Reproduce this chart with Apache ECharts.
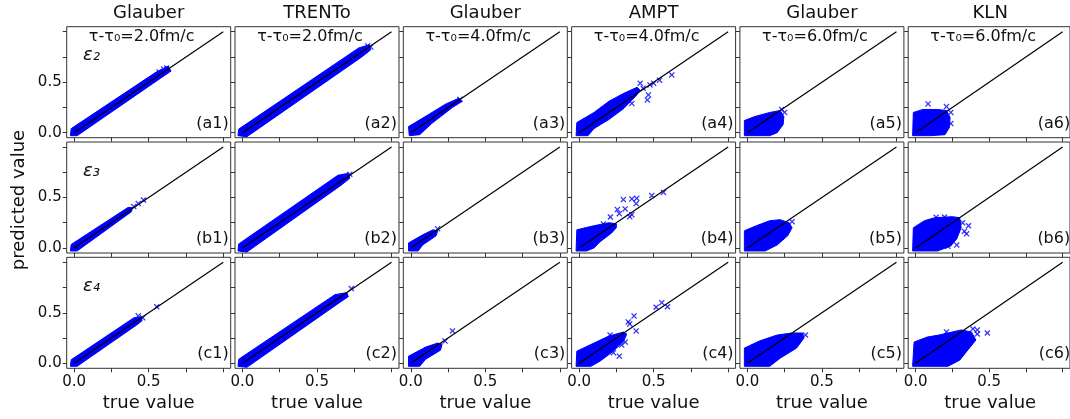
<!DOCTYPE html>
<html>
<head>
<meta charset="utf-8">
<script src="https://cdn.jsdelivr.net/npm/echarts@6/dist/echarts.min.js"></script>
<style>
html, body { margin: 0; padding: 0; background: #fff; }
#chart { width: 1070px; height: 419px; }
</style>
</head>
<body>
<div id="chart"></div>
<script>
// column headers / annotations
var models = ['Glauber', 'TRENTo', 'Glauber', 'AMPT', 'Glauber', 'KLN'];
var tauValues = ['2.0', '2.0', '4.0', '4.0', '6.0', '6.0'];
var harmonics = ['₂', '₃', '₄'];
var rowLetters = ['a', 'b', 'c'];
var tickValues = [0, 0.25, 0.5, 0.75, 1];
var labelValues = [0, 0.5];
var diagonal = [[0, 0], [1, 1]];

// dense part of each cloud (outline), [true, predicted]
var cloudA1 = [[-0.025, -0.03], [-0.02, 0.04], [0.55, 0.6], [0.63, 0.66], [0.65, 0.61], [0.58, 0.54], [0.02, -0.03]];
var cloudA2 = [[-0.03, -0.03], [-0.025, 0.035], [0.78, 0.84], [0.85, 0.87], [0.86, 0.82], [0.8, 0.75], [0.03, -0.04]];
var cloudA3 = [[-0.01, -0.03], [-0.015, 0.06], [0.12, 0.18], [0.23, 0.28], [0.32, 0.34], [0.345, 0.31], [0.28, 0.25], [0.14, 0.09], [0.06, -0.02]];
var cloudA4 = [[-0.02, -0.03], [-0.015, 0.1], [0.1, 0.2], [0.2, 0.31], [0.3, 0.39], [0.39, 0.45], [0.41, 0.42], [0.38, 0.36], [0.3, 0.24], [0.2, 0.13], [0.1, 0.04], [0.06, -0.03]];
var cloudA5 = [[-0.02, -0.03], [-0.02, 0.12], [0.05, 0.16], [0.15, 0.2], [0.22, 0.22], [0.245, 0.16], [0.24, 0.08], [0.2, 0.0], [0.15, -0.03]];
var cloudA6 = [[-0.02, -0.03], [-0.015, 0.2], [0.05, 0.23], [0.15, 0.23], [0.21, 0.22], [0.235, 0.15], [0.23, 0.05], [0.2, -0.02], [0.1, -0.03]];

var cloudB1 = [[-0.025, -0.03], [-0.02, 0.035], [0.36, 0.4], [0.39, 0.4], [0.385, 0.36], [0.02, -0.03]];
var cloudB2 = [[-0.03, -0.03], [-0.025, 0.04], [0.64, 0.72], [0.71, 0.74], [0.72, 0.69], [0.66, 0.62], [0.03, -0.04]];
var cloudB3 = [[-0.015, -0.03], [-0.015, 0.05], [0.08, 0.13], [0.15, 0.18], [0.18, 0.17], [0.17, 0.12], [0.08, 0.03], [0.05, -0.03]];
var cloudB4 = [[-0.02, -0.03], [-0.015, 0.18], [0.1, 0.22], [0.2, 0.25], [0.25, 0.24], [0.25, 0.2], [0.22, 0.15], [0.14, 0.06], [0.1, 0.0], [0.05, -0.03]];
var cloudB5 = [[-0.02, -0.03], [-0.02, 0.17], [0.06, 0.22], [0.15, 0.27], [0.22, 0.28], [0.28, 0.25], [0.3, 0.2], [0.27, 0.12], [0.2, 0.03], [0.12, -0.03]];
var cloudB6 = [[-0.02, -0.03], [-0.015, 0.2], [0.06, 0.27], [0.13, 0.3], [0.25, 0.31], [0.3, 0.3], [0.31, 0.2], [0.28, 0.09], [0.24, 0.02], [0.15, -0.03]];

var cloudC1 = [[-0.025, -0.03], [-0.02, 0.035], [0.4, 0.45], [0.45, 0.46], [0.455, 0.42], [0.42, 0.38], [0.02, -0.03]];
var cloudC2 = [[-0.03, -0.03], [-0.025, 0.04], [0.62, 0.68], [0.7, 0.7], [0.71, 0.66], [0.65, 0.6], [0.03, -0.04]];
var cloudC3 = [[-0.015, -0.03], [-0.015, 0.07], [0.1, 0.16], [0.18, 0.2], [0.21, 0.19], [0.2, 0.13], [0.1, 0.04], [0.06, -0.03]];
var cloudC4 = [[-0.02, -0.03], [-0.015, 0.12], [0.1, 0.2], [0.2, 0.27], [0.3, 0.31], [0.32, 0.29], [0.3, 0.22], [0.23, 0.12], [0.14, 0.02], [0.08, -0.03]];
var cloudC5 = [[-0.02, -0.03], [-0.02, 0.15], [0.08, 0.22], [0.2, 0.28], [0.3, 0.3], [0.37, 0.3], [0.38, 0.25], [0.33, 0.15], [0.22, 0.05], [0.15, -0.03]];
var cloudC6 = [[-0.02, -0.03], [-0.01, 0.21], [0.08, 0.26], [0.16, 0.28], [0.31, 0.33], [0.38, 0.31], [0.41, 0.23], [0.36, 0.14], [0.3, 0.03], [0.22, -0.03]];

// isolated points outside the dense part
var outA1 = [[0.6, 0.63], [0.62, 0.64], [0.57, 0.6]];
var outA2 = [[0.84, 0.86], [0.86, 0.85]];
var outA3 = [[0.33, 0.33]];
var outA4 = [[0.41, 0.49], [0.465, 0.374], [0.476, 0.473], [0.458, 0.324], [0.622, 0.572], [0.54, 0.52], [0.354, 0.29], [0.43, 0.44], [0.5, 0.49]];
var outA5 = [[0.25, 0.2], [0.23, 0.23]];
var outA6 = [[0.085, 0.285], [0.21, 0.258], [0.24, 0.09], [0.24, 0.2]];

var outB1 = [[0.43, 0.44], [0.465, 0.475], [0.4, 0.41]];
var outB2 = [[0.72, 0.73]];
var outB3 = [[0.18, 0.19]];
var outB4 = [[0.163, 0.238], [0.21, 0.307], [0.257, 0.38], [0.27, 0.34], [0.297, 0.479], [0.309, 0.387], [0.354, 0.486], [0.387, 0.492], [0.383, 0.44], [0.354, 0.33], [0.34, 0.31], [0.488, 0.519], [0.566, 0.55]];
var outB5 = [[0.3, 0.26]];
var outB6 = [[0.14, 0.305], [0.197, 0.307], [0.332, 0.165], [0.36, 0.22], [0.347, 0.14], [0.28, 0.03], [0.22, 0.016], [0.32, 0.25]];

var outC1 = [[0.554, 0.56], [0.46, 0.45], [0.43, 0.47]];
var outC2 = [[0.73, 0.74]];
var outC3 = [[0.28, 0.32], [0.23, 0.22]];
var outC4 = [[0.208, 0.28], [0.27, 0.07], [0.23, 0.105], [0.33, 0.41], [0.369, 0.469], [0.34, 0.39], [0.383, 0.32], [0.517, 0.555], [0.555, 0.6], [0.593, 0.56], [0.286, 0.18], [0.31, 0.21]];
var outC5 = [[0.39, 0.28]];
var outC6 = [[0.21, 0.31], [0.39, 0.34], [0.42, 0.33], [0.42, 0.29], [0.488, 0.3]];

var clouds = [
    [cloudA1, cloudA2, cloudA3, cloudA4, cloudA5, cloudA6],
    [cloudB1, cloudB2, cloudB3, cloudB4, cloudB5, cloudB6],
    [cloudC1, cloudC2, cloudC3, cloudC4, cloudC5, cloudC6]
];
var outliers = [
    [outA1, outA2, outA3, outA4, outA5, outA6],
    [outB1, outB2, outB3, outB4, outB5, outB6],
    [outC1, outC2, outC3, outC4, outC5, outC6]
];

(function () {
    // layout (px)
    var PANEL_LEFT = 66.7, PANEL_DX = 168.3, PANEL_W = 164;
    var PANEL_TOP = 26.7, PANEL_DY = 115.3, PANEL_H = 111;
    var FONT = 'DejaVu Sans';
    var BLUE = '#0000ff';
    var CROSS = 'path://M0,1.5 L1.5,0 L5,3.5 L8.5,0 L10,1.5 L6.5,5 L10,8.5 L8.5,10 L5,6.5 L1.5,10 L0,8.5 L3.5,5 Z';

    var grids = [], xAxes = [], yAxes = [], series = [], graphics = [];

    function makeAxis(idx, showLabel, isX) {
        return {
            gridIndex: idx,
            type: 'value',
            min: -0.05,
            max: 1.05,
            axisLine: { show: false, onZero: false },
            splitLine: { show: false },
            axisTick: { show: true, customValues: tickValues.slice(), length: 4, lineStyle: { color: '#333', width: 1 } },
            axisLabel: {
                show: showLabel,
                customValues: labelValues.slice(),
                formatter: function (v) { return v.toFixed(1); },
                fontFamily: FONT,
                fontSize: 15,
                color: '#111',
                margin: isX ? 6 : 5
            }
        };
    }

    function addPolygon(idx, poly) {
        series.push({
            type: 'custom',
            xAxisIndex: idx, yAxisIndex: idx,
            data: poly,
            encode: { x: 0, y: 1 },
            clip: true,
            silent: true,
            z: 2,
            renderItem: function (params, api) {
                if (params.dataIndex !== 0) return null;
                return {
                    type: 'polygon',
                    shape: { points: poly.map(function (p) { return api.coord(p); }) },
                    style: { fill: BLUE, stroke: BLUE, lineWidth: 1 }
                };
            }
        });
    }

    for (var r = 0; r < 3; r++) {
        for (var c = 0; c < 6; c++) {
            var idx = r * 6 + c;
            var gx = PANEL_LEFT + c * PANEL_DX;
            var gy = PANEL_TOP + r * PANEL_DY;
            grids.push({
                left: gx, top: gy, width: PANEL_W, height: PANEL_H,
                show: true, borderColor: '#333', borderWidth: 1, backgroundColor: '#fff'
            });
            xAxes.push(makeAxis(idx, r === 2, true));
            yAxes.push(makeAxis(idx, c === 0, false));

            addPolygon(idx, clouds[r][c]);

            series.push({
                type: 'scatter',
                xAxisIndex: idx, yAxisIndex: idx,
                data: outliers[r][c],
                symbol: CROSS,
                symbolSize: 6,
                itemStyle: { color: BLUE },
                silent: true,
                z: 3
            });
            series.push({
                type: 'line',
                xAxisIndex: idx, yAxisIndex: idx,
                data: diagonal.map(function (p) { return p.slice(); }),
                symbol: 'none',
                lineStyle: { color: '#000', width: 1.2 },
                silent: true,
                z: 5
            });

            graphics.push({
                type: 'text',
                x: gx + PANEL_W - 2, y: gy + 97,
                style: { text: '(' + rowLetters[r] + (c + 1) + ')', font: '16px "' + FONT + '"', fill: '#111', align: 'right', verticalAlign: 'middle' }
            });
            if (r === 0) {
                graphics.push({
                    type: 'text',
                    x: gx + PANEL_W / 2, y: 13,
                    style: { text: models[c], font: '18px "' + FONT + '"', fill: '#111', align: 'center', verticalAlign: 'middle' }
                });
                graphics.push({
                    type: 'text',
                    x: gx + PANEL_W / 2 - 7, y: 37,
                    style: { text: 'τ-τ₀=' + tauValues[c] + 'fm/c', font: '16px "' + FONT + '"', fill: '#111', align: 'center', verticalAlign: 'middle' }
                });
            }
            if (r === 2) {
                graphics.push({
                    type: 'text',
                    x: gx + PANEL_W / 2, y: 403,
                    style: { text: 'true value', font: '18px "' + FONT + '"', fill: '#111', align: 'center', verticalAlign: 'middle' }
                });
            }
            if (c === 0) {
                graphics.push({
                    type: 'text',
                    x: 83, y: gy + 29,
                    style: { text: 'ε' + harmonics[r], font: 'italic 18px "' + FONT + '"', fill: '#111', align: 'left', verticalAlign: 'middle' }
                });
            }
        }
    }

    graphics.push({
        type: 'text',
        x: 19, y: 200,
        rotation: Math.PI / 2,
        style: { text: 'predicted value', font: '18px "' + FONT + '"', fill: '#111', align: 'center', verticalAlign: 'middle' }
    });

    var chart = echarts.init(document.getElementById('chart'), null, { renderer: 'canvas' });
    chart.setOption({
        animation: false,
        backgroundColor: '#fff',
        grid: grids,
        xAxis: xAxes,
        yAxis: yAxes,
        series: series,
        graphic: graphics
    });
})();
</script>
</body>
</html>
